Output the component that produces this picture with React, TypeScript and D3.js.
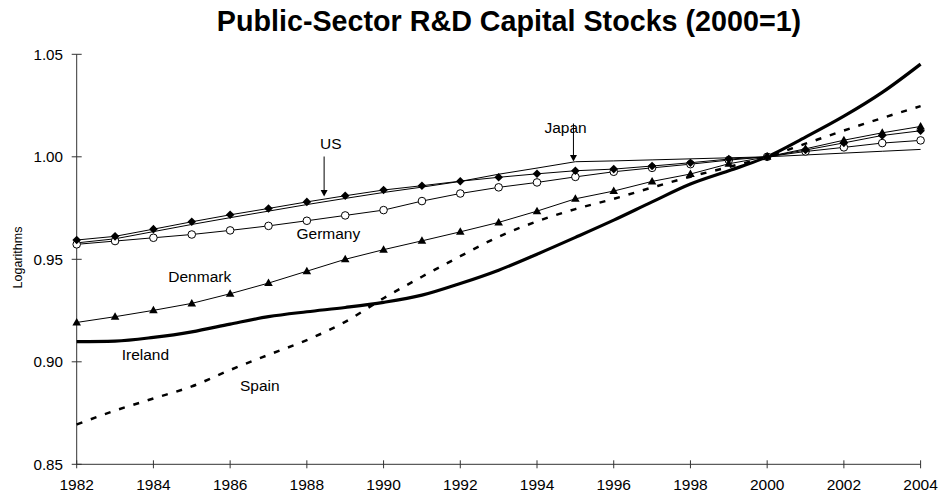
import React from "react";
import * as d3 from "d3";

const years = d3.range(1982, 2005);
const xTicks = [1982, 1984, 1986, 1988, 1990, 1992, 1994, 1996, 1998, 2000, 2002, 2004];
const yTicks = [0.85, 0.9, 0.95, 1.0, 1.05];

const us = [0.9594, 0.9612, 0.9647, 0.9683, 0.9717, 0.9748, 0.978, 0.981, 0.9838, 0.9859, 0.9881, 0.99, 0.9917, 0.9932, 0.994, 0.9955, 0.9971, 0.9989, 1.0, 1.0033, 1.0068, 1.0104, 1.0127];
const japan = [0.958, 0.96, 0.9635, 0.967, 0.9703, 0.9735, 0.9767, 0.9797, 0.9826, 0.9852, 0.988, 0.9915, 0.9945, 0.9976, 0.998, 0.9985, 0.999, 0.9995, 1.0, 1.0009, 1.0018, 1.0027, 1.0036];
const germany = [0.9573, 0.9589, 0.9605, 0.9621, 0.9641, 0.9663, 0.9688, 0.9714, 0.974, 0.9784, 0.9821, 0.9851, 0.9875, 0.9902, 0.9927, 0.9946, 0.9964, 0.9984, 1.0, 1.0026, 1.0046, 1.0067, 1.008];
const denmark = [0.9192, 0.922, 0.9251, 0.9285, 0.9332, 0.9384, 0.9442, 0.95, 0.9547, 0.959, 0.9634, 0.968, 0.9735, 0.9795, 0.9833, 0.988, 0.9916, 0.9966, 1.0, 1.0039, 1.0081, 1.0117, 1.0148];
const ireland = [0.9098, 0.9101, 0.9119, 0.9146, 0.9184, 0.922, 0.9244, 0.9265, 0.929, 0.9325, 0.9382, 0.9447, 0.9525, 0.9607, 0.9691, 0.978, 0.9867, 0.9932, 1.0, 1.0096, 1.0198, 1.0314, 1.0452];
const spain = [0.8694, 0.8762, 0.8821, 0.888, 0.896, 0.9034, 0.9106, 0.9195, 0.931, 0.9415, 0.9515, 0.961, 0.9685, 0.9745, 0.9795, 0.985, 0.9903, 0.995, 1.0, 1.0064, 1.0128, 1.0189, 1.0247];

const title = "Public-Sector R&D Capital Stocks (2000=1)";
const yLabel = "Logarithms";

const W = 939;
const H = 492;
const FONT = "'Liberation Sans', Arial, Helvetica, sans-serif";

export default function App() {
  const x = d3.scaleLinear().domain([1982, 2004]).range([76.7, 920.6]);
  const y = d3.scaleLinear().domain([0.85, 1.05]).range([464.3, 54.3]);

  const lin = d3
    .line<number>()
    .x((_, i) => x(years[i]))
    .y((d) => y(d));
  const smooth = d3
    .line<number>()
    .x((_, i) => x(years[i]))
    .y((d) => y(d))
    .curve(d3.curveMonotoneX);

  const diamond = (cx: number, cy: number, r: number) =>
    `M${cx},${cy - r}L${cx + r},${cy}L${cx},${cy + r}L${cx - r},${cy}Z`;
  const triangle = (cx: number, cy: number) =>
    `M${cx},${cy - 4.5}L${cx + 4.3},${cy + 3}L${cx - 4.3},${cy + 3}Z`;

  const x0 = x.range()[0];
  const x1 = x.range()[1];
  const yb = y.range()[0];
  const yt = y.range()[1];

  const usArrowX = x(1988.45);
  const jpArrowX = x(1994.95);

  return (
    <svg
      width={W}
      height={H}
      style={{ position: "absolute", left: 0, top: 0, background: "#fff" }}
      fontFamily={FONT}
    >
      <rect x={0} y={0} width={W} height={H} fill="#fff" />
      <text x={509} y={31} textAnchor="middle" fontSize={28.7} fontWeight="bold" fill="#000">
        {title}
      </text>

      {/* axes */}
      <line x1={x0} x2={x0} y1={yt} y2={yb} stroke="#333" strokeWidth={1} />
      <line x1={x0} x2={x1} y1={yb} y2={yb} stroke="#333" strokeWidth={1} />
      {yTicks.map((t) => (
        <g key={"y" + t}>
          <line x1={x0 - 5} x2={x0 + 5} y1={y(t)} y2={y(t)} stroke="#333" />
          <text x={63} y={y(t) + 5.4} textAnchor="end" fontSize={15.2} fill="#000">
            {d3.format(".2f")(t)}
          </text>
        </g>
      ))}
      {xTicks.map((t) => (
        <g key={"x" + t}>
          <line x1={x(t)} x2={x(t)} y1={yb - 4} y2={yb + 4} stroke="#333" />
          <text x={x(t)} y={489.5} textAnchor="middle" fontSize={15.5} fill="#000">
            {t}
          </text>
        </g>
      ))}
      <text
        transform={`translate(22,257.5) rotate(-90)`}
        textAnchor="middle"
        fontSize={12.5}
        fill="#000"
      >
        {yLabel}
      </text>

      {/* series */}
      <path d={lin(japan) || ""} fill="none" stroke="#000" strokeWidth={1} />
      <path d={lin(germany) || ""} fill="none" stroke="#000" strokeWidth={1} />
      <path d={lin(us) || ""} fill="none" stroke="#000" strokeWidth={1} />
      <path d={lin(denmark) || ""} fill="none" stroke="#000" strokeWidth={1} />
      <path
        d={smooth(spain) || ""}
        fill="none"
        stroke="#000"
        strokeWidth={2.5}
        strokeDasharray="6 9"
      />
      <path d={smooth(ireland) || ""} fill="none" stroke="#000" strokeWidth={3.2} />

      {germany.map((v, i) => (
        <circle key={"g" + i} cx={x(years[i])} cy={y(v)} r={3.8} fill="#fff" stroke="#000" strokeWidth={1} />
      ))}
      {us.map((v, i) => (
        <path key={"u" + i} d={diamond(x(years[i]), y(v), 4.3)} fill="#000" />
      ))}
      {denmark.map((v, i) => (
        <path key={"d" + i} d={triangle(x(years[i]), y(v))} fill="#000" />
      ))}

      {/* labels */}
      <text x={320} y={149.3} fontSize={15.5} fill="#000">US</text>
      <text x={544.5} y={132.7} fontSize={15.5} fill="#000">Japan</text>
      <text x={296.5} y={239.3} fontSize={15.5} fill="#000">Germany</text>
      <text x={168.3} y={281.7} fontSize={15.5} fill="#000">Denmark</text>
      <text x={121.7} y={360} fontSize={15.5} fill="#000">Ireland</text>
      <text x={240} y={390.7} fontSize={15.5} fill="#000">Spain</text>

      {/* arrows */}
      <line x1={usArrowX} x2={usArrowX} y1={156.5} y2={190} stroke="#000" strokeWidth={1} />
      <path d={`M${usArrowX - 3.5},${190}L${usArrowX + 3.5},${190}L${usArrowX},${196.5}Z`} fill="#000" />
      <line x1={jpArrowX} x2={jpArrowX} y1={123.5} y2={155} stroke="#000" strokeWidth={1} />
      <path d={`M${jpArrowX - 3.5},${155}L${jpArrowX + 3.5},${155}L${jpArrowX},${161.5}Z`} fill="#000" />
    </svg>
  );
}
